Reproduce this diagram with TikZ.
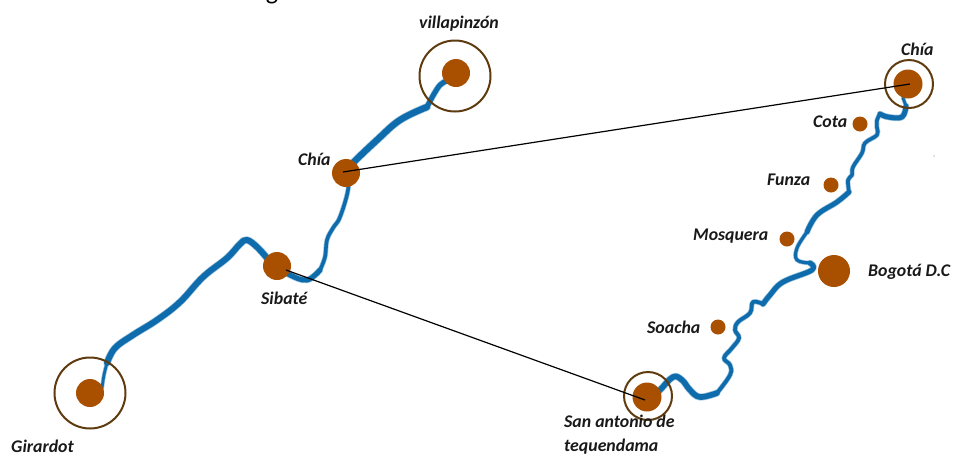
\documentclass[tikz,border=0pt]{standalone}
\usepackage{fontspec}
\setmainfont{Carlito}
\definecolor{cityc}{HTML}{A85000}
\definecolor{ringc}{HTML}{5F3B10}
\definecolor{riverc}{HTML}{0F6CAC}
\tikzset{
  x=1pt,y=-1pt,
  city/.style={circle,fill=cityc,inner sep=0pt,minimum size=#1},
  ringb/.style={circle,draw=ringc,line width=2pt,inner sep=0pt,minimum size=#1},
  lab/.style={font=\fontsize{17.8}{24}\selectfont\bfseries\itshape,text=black!90,inner sep=0pt,align=left},
  river/.style={draw=riverc,line width=#1,line cap=round,line join=round},
  halo/.style={draw=riverc!40,line width=#1+1.4pt,line cap=round,line join=round},
  link/.style={draw=black,line width=1.2pt},
}
\newcommand{\rivseg}[3]{%
  \draw[#1=#2] plot[smooth,tension=0.65] coordinates {#3};}
\newcommand{\allriver}[1]{%
\rivseg{#1}{2.8pt}{(102,388)(104,375)(107,363)}
\rivseg{#1}{6pt}{(107,363)(115,348)(133,335)(157,320)(180,302)(203,277)(227,258)(240,244)(247,240)(257,247)(267,258)}
\rivseg{#1}{5pt}{(277,266)(290,275)(307,280)(320,270)}
\rivseg{#1}{3.6pt}{(320,270)(325,257)(327,240)(333,228)(340,217)(348,190)(347,175)}
\rivseg{#1}{6.4pt}{(346,173)(353,163)(377,140)(400,120)(427,107)}
\rivseg{#1}{5pt}{(427,107)(440,85)(452,80)}
\rivseg{#1}{2.8pt}{(903,98)(906,106)}
\rivseg{#1}{5pt}{(906,106)(902,117)(888,117)(880,114)}
\rivseg{#1}{3.6pt}{(880,114)(877,120)(877,128)(877,135)(865,143)(862,153)(853,167)(852,175)(848,180)(849,192)}
\rivseg{#1}{4.8pt}{(849,192)(837,202)(817,215)(807,232)}
\rivseg{#1}{3.2pt}{(807,232)(797,248)(797,260)(810,263)}
\rivseg{#1}{5pt}{(810,263)(812,270)(783,282)(770,295)(763,304)}
\rivseg{#1}{3.8pt}{(763,304)(753,302)(750,313)(738,322)(735,330)(739,338)(732,348)(724,358)(730,365)(730,375)(717,393)}
\rivseg{#1}{5.6pt}{(717,393)(700,397)(690,390)(682,380)(673,377)(660,390)(652,397)}
}
\begin{document}
\begin{tikzpicture}
\useasboundingbox (0,0) rectangle (956,456);
% rivers
\allriver{halo}
\allriver{river}
\fill[riverc!35] (934,156) circle (0.8);
% rings and cities
\node[ringb=71pt] (rv) at (455,76) {};
\node[ringb=71pt] (rg) at (90,393) {};
\node[ringb=48pt] (rc) at (909,84) {};
\node[ringb=48pt] (rs) at (648,396) {};
\node[city=28pt] (villa) at (456,73) {};
\node[city=28pt] (chial) at (346,173) {};
\node[city=28pt] (sibate) at (277,266) {};
\node[city=28pt] (gir) at (90,393) {};
\node[city=29pt] (chiar) at (908,84) {};
\node[city=15pt] (cota) at (860,124) {};
\node[city=15pt] (funza) at (831,185) {};
\node[city=15pt] (mosq) at (787,239) {};
\node[city=32pt] (bog) at (834,271) {};
\node[city=15pt] (soa) at (718,327) {};
\node[city=29pt] (san) at (647,397) {};
% links
\coordinate (l1a) at (343,172);
\coordinate (l1b) at (910,84);
\coordinate (l2a) at (286,270);
\coordinate (l2b) at (645,400);
\draw[link] (l1a) -- (l1b);
\draw[link] (l2a) -- (l2b);
% labels
\node[font=\fontsize{26}{28}\selectfont,inner sep=0pt,anchor=base] (ttl) at (272,-1) {g};
\node[lab,anchor=west] (t1) at (419,24) {villapinzón};
\node[lab,anchor=west] (t2) at (298,159) {Chía};
\node[lab,anchor=west] (t3) at (261,298) {Sibaté};
\node[lab,anchor=west] (t4) at (11,446) {Girardot};
\node[lab,anchor=west] (t5) at (901,49) {Chía};
\node[lab,anchor=west] (t6) at (813,122) {Cota};
\node[lab,anchor=west] (t7) at (767,180) {Funza};
\node[lab,anchor=west] (t8) at (693,236) {Mosquera};
\node[lab,anchor=west] (t9) at (868,272) {Bogotá D.C};
\node[lab,anchor=west] (t10) at (647,327) {Soacha};
\node[lab,anchor=north west] (t11) at (564,415) {San antonio de\\tequendama};
\end{tikzpicture}
\end{document}
